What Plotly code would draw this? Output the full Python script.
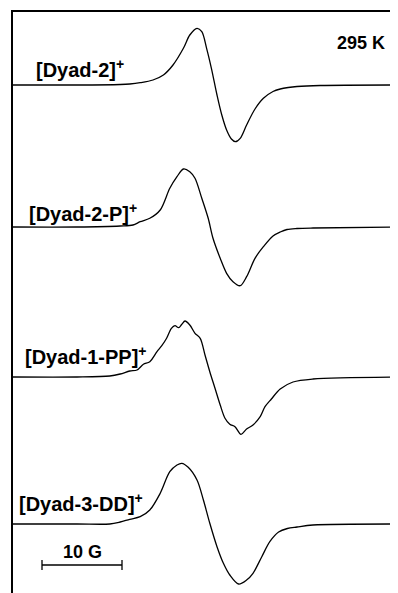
import plotly.graph_objects as go

# Field axis in Gauss (relative), intensity in arbitrary units (derivative EPR signal)
field_dyad2 = [0, 8.0, 13.4, 14.6, 15.9, 17.5, 18.8, 20.0, 21.3, 22.1, 23.0, 23.6, 24.2, 24.8, 25.5,
               26.1, 26.7, 27.3, 27.8, 28.4, 29.2, 30.25, 31.3, 32.5, 33.4, 34.4, 35.5, 38.4, 48.1]
sig_dyad2 = [0, 0, 0.5, 1, 2.3, 5, 10, 20, 36.7, 50, 56.7, 53.3, 36.7, 16.7, -10,
             -30, -45, -54, -56.7, -53.3, -40, -24, -13.3, -6.5, -4, -2.5, -1.5, -0.5, 0]

field_dyad2p = [0, 8.0, 13.4, 15.0, 15.9, 17.1, 18.4, 19.6, 20.5, 21.3, 22.1, 22.75, 23.6, 24.4, 25.0,
                25.9, 26.7, 27.5, 28.4, 29.2, 30.25, 31.3, 32.5, 33.4, 34.25, 35.5, 37.5, 48.1]
sig_dyad2p = [0, 0, 1, 2, 5.3, 8.7, 17, 38.7, 50.3, 58, 55.3, 48.7, 28.7, 8.7, -11.3,
              -31.3, -46.3, -54.7, -58.7, -49.7, -31.3, -19.7, -9, -5, -2.5, -1.5, -1, 0]

field_dyad1pp = [0, 8.0, 12.1, 13.4, 14.6, 15.5, 16.3, 17.1, 18.0, 18.6, 19.2, 19.8, 20.25, 20.7, 21.1,
                 21.5, 22.1, 22.75, 23.4, 24.0, 24.6, 25.25, 25.9, 26.5, 27.1, 27.75, 28.5, 29.2,
                 30.0, 30.9, 31.5, 32.3, 33.4, 35.0, 37.5, 48.1]
sig_dyad1pp = [0, 0, 1, 3, 6, 7, 12.7, 15.3, 25.3, 31.3, 38.7, 48.7, 51.3, 49.3, 52.7,
               56, 52, 43.7, 38.7, 22, 5.3, -11.3, -28, -41.3, -47.3, -49.7, -57.3, -52,
               -48, -39.7, -29.7, -22, -12, -5, -2, 0]

field_dyad3dd = [0, 8.0, 12.1, 13.4, 14.6, 15.9, 17.1, 18.4, 19.6, 20.5, 21.1, 21.9, 23.0, 23.8, 24.6,
                 25.5, 26.3, 27.1, 28.2, 29.2, 30.0, 31.1, 32.1, 33.2, 34.3, 35.5, 37.5, 48.1]
sig_dyad3dd = [0, 0, 0, 2, 4.7, 7.3, 14, 30.7, 52.3, 59, 60.7, 56.7, 44, 24, 0.7,
               -22.7, -39.3, -51, -60, -56, -49.3, -32.7, -17.7, -8, -4.5, -3, -1, 0]

labels = ["[Dyad-2]<sup>+</sup>", "[Dyad-2-P]<sup>+</sup>", "[Dyad-1-PP]<sup>+</sup>", "[Dyad-3-DD]<sup>+</sup>"]
offsets = [508, 366, 216, 69]
temperature = "295 K"
scale_bar_gauss = 10
scale_label = "10 G"

series = [(field_dyad2, sig_dyad2), (field_dyad2p, sig_dyad2p),
          (field_dyad1pp, sig_dyad1pp), (field_dyad3dd, sig_dyad3dd)]

fig = go.Figure()
for (fx, sy), off in zip(series, offsets):
    fig.add_trace(go.Scatter(x=fx, y=[v + off for v in sy], mode="lines",
                             line=dict(color="black", width=1.3, shape="spline", smoothing=0.9),
                             hoverinfo="skip", showlegend=False))

# scale bar
x0 = 3.625
x1 = x0 + scale_bar_gauss
yb = 28
fig.add_trace(go.Scatter(x=[x0, x0, None, x0, x1, None, x1, x1],
                         y=[yb - 5, yb + 5, None, yb, yb, None, yb - 5, yb + 5],
                         mode="lines", line=dict(color="black", width=1.3),
                         hoverinfo="skip", showlegend=False))

font = dict(family="Liberation Sans, Arial, sans-serif", size=20, color="black")
label_x = [2.6, 1.8, 1.2, 0.55]
label_y = [525, 381, 238, 91]
for t, lx, ly in zip(labels, label_x, label_y):
    fig.add_annotation(x=lx, y=ly, text="<b>" + t + "</b>", showarrow=False,
                       xanchor="left", yanchor="middle", font=font)

fig.add_annotation(x=(335 - 13) / 8, y=550, text="<b>" + temperature + "</b>", showarrow=False,
                   xanchor="left", yanchor="middle", font=dict(font, size=18))
fig.add_annotation(x=(x0 + x1) / 2, y=41, text="<b>" + scale_label + "</b>", showarrow=False,
                   xanchor="center", yanchor="middle", font=dict(font, size=18))

fig.update_xaxes(range=[0, 48.125], showline=True, linecolor="black", linewidth=2, side="top",
                 showticklabels=False, ticks="", showgrid=False, zeroline=False)
fig.update_yaxes(range=[0, 581], showline=True, linecolor="black", linewidth=2,
                 showticklabels=False, ticks="", showgrid=False, zeroline=False)
# page body has an 8px margin: shrink the figure so the frame lands where the reference has it
fig.update_layout(width=390, height=585, margin=dict(l=5, r=0, t=4, b=0),
                  plot_bgcolor="white", paper_bgcolor="white")

fig.write_html("out.html")
